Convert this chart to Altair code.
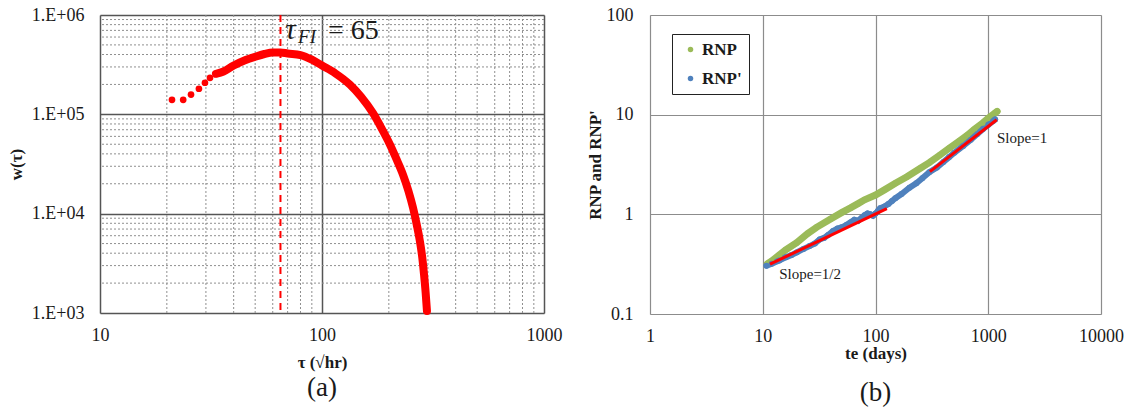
import altair as alt
import pandas as pd

SERIF = "Liberation Serif"
RED = "#ff0000"
GREEN = "#9bbb59"
BLUE = "#4f81bd"
INK = "#1a1a1a"

# ---------------- panel (a) ----------------
tau_dots = [21.1, 23.7, 25.7, 27.9, 29.7, 31.3, 33.3]
w_dots = [1.40e5, 1.40e5, 1.58e5, 1.81e5, 2.08e5, 2.33e5, 2.56e5]
tau_curve = [33.3, 36, 40, 45, 50, 55, 60, 65, 70, 80, 90, 100, 115, 133.6, 150,
             170, 185, 202, 217, 232, 245, 257, 267, 276, 283, 288, 293, 297]
w_curve = [2.56e5, 2.7e5, 3.1e5, 3.5e5, 3.8e5, 4.05e5, 4.2e5, 4.2e5, 4.1e5, 3.95e5,
           3.55e5, 3.1e5, 2.58e5, 1.99e5, 1.5e5, 1.02e5, 7.3e4, 5.0e4, 3.5e4, 2.45e4,
           1.7e4, 1.15e4, 7.8e3, 5.3e3, 3.6e3, 2.46e3, 1.6e3, 1.05e3]
tau_fi = [65]

a_x_major = [10, 100, 1000]
a_x_minor = [20, 30, 40, 50, 60, 70, 80, 90, 200, 300, 400, 500, 600, 700, 800, 900]
a_y_major = [1e3, 1e4, 1e5, 1e6]
a_y_minor = [2e3, 3e3, 4e3, 5e3, 6e3, 7e3, 8e3, 9e3,
             2e4, 3e4, 4e4, 5e4, 6e4, 7e4, 8e4, 9e4,
             2e5, 3e5, 4e5, 5e5, 6e5, 7e5, 8e5, 9e5]

# annotation "tau_FI = 65" (data coordinates)
ann_a_text = ["τ", "FI", "= 65"]
ann_a_tau = [68.1, 78.0, 106.4]
ann_a_w = [5.74e5, 5.24e5, 5.74e5]

# ---------------- panel (b) ----------------
te_rnp = [11, 12, 14, 16, 20, 25, 30, 40, 50, 60, 70, 80, 100, 120, 150, 190, 250,
          300, 373, 450, 550, 650, 750, 900, 1000, 1148, 1200]
rnp = [0.32, 0.34, 0.39, 0.44, 0.52, 0.64, 0.74, 0.90, 1.04, 1.16, 1.28, 1.40, 1.56,
       1.76, 2.05, 2.38, 2.90, 3.30, 3.94, 4.60, 5.40, 6.20, 7.10, 8.30, 9.20, 10.4, 10.8]
te_rnpd = [10.8, 12, 14, 16, 18, 20, 23, 26, 29, 32, 35, 38, 42, 46, 50, 55, 60, 65,
           70, 75, 80, 85, 90, 95, 100, 105, 110, 120, 130, 140, 150, 170, 200, 230,
           260, 300, 350, 400, 450, 500, 600, 700, 800, 900, 1000, 1100, 1150]
rnpd = [0.305, 0.32, 0.345, 0.37, 0.39, 0.415, 0.45, 0.48, 0.51, 0.56, 0.58, 0.62,
        0.68, 0.72, 0.74, 0.78, 0.83, 0.88, 0.86, 0.92, 0.98, 1.02, 1.0, 0.97, 1.02,
        1.08, 1.15, 1.2, 1.27, 1.36, 1.45, 1.6, 1.85, 2.05, 2.3, 2.65, 2.95, 3.35,
        3.75, 4.15, 4.85, 5.6, 6.4, 7.2, 7.9, 8.6, 8.95]
fit_seg = ["half", "half", "one", "one"]
fit_te = [11.6, 126, 304, 1189]
fit_v = [0.316, 1.14, 2.68, 8.9]

b_x_ticks = [1, 10, 100, 1000, 10000]
b_y_ticks = [0.1, 1, 10, 100]

ann_b_text = ["Slope=1/2", "Slope=1"]
ann_b_te = [14.0, 1196]
ann_b_v = [0.226, 5.21]

# ================= build panel (a) =================
xs_a = alt.Scale(type="log", domain=[10, 1000], nice=False)
ys_a = alt.Scale(type="log", domain=[1e3, 1e6], nice=False)

ax_a_x = alt.Axis(values=a_x_major, format="d", title="τ (√hr)", grid=True,
                  gridColor="#555555", gridWidth=1.5, ticks=False, domain=False,
                  labelFlush=False, labelFont=SERIF, labelFontSize=18, labelColor=INK,
                  labelPadding=13, titleFont=SERIF, titleFontSize=17,
                  titleFontWeight="bold", titleColor=INK, titlePadding=10)
ax_a_y = alt.Axis(values=a_y_major, labelExpr="'1.E+0' + round(log(datum.value)/LN10)",
                  title="w(τ)", grid=True, gridColor="#555555", gridWidth=1.5,
                  ticks=False, domain=False, labelFlush=False, labelFont=SERIF,
                  labelFontSize=18, labelColor=INK, labelPadding=16, titleFont=SERIF,
                  titleFontSize=17, titleFontWeight="bold", titleColor=INK,
                  titlePadding=6)

X_a = alt.X("tau:Q", scale=xs_a, axis=ax_a_x)
Y_a = alt.Y("w:Q", scale=ys_a, axis=ax_a_y)

df_a_vminor = pd.DataFrame({"tau": a_x_minor})
df_a_hminor = pd.DataFrame({"w": a_y_minor})
df_a_dots = pd.DataFrame({"tau": tau_dots, "w": w_dots})
df_a_curve = pd.DataFrame({"tau": tau_curve, "w": w_curve})
df_a_fi = pd.DataFrame({"tau": tau_fi})
df_a_ann = pd.DataFrame({"tau": ann_a_tau, "w": ann_a_w, "t": ann_a_text})

minor_style = dict(color="#8f8f8f", strokeWidth=1, strokeDash=[2, 2])
a_vminor = alt.Chart(df_a_vminor).mark_rule(**minor_style).encode(x=X_a)
a_hminor = alt.Chart(df_a_hminor).mark_rule(**minor_style).encode(y=Y_a)
a_fi = alt.Chart(df_a_fi).mark_rule(color=RED, strokeWidth=2, strokeDash=[7, 5]).encode(x=X_a)
a_curve = alt.Chart(df_a_curve).mark_line(color=RED, strokeWidth=8, strokeCap="round",
                                          interpolate="monotone").encode(x=X_a, y=Y_a)
a_dots = alt.Chart(df_a_dots).mark_circle(color=RED, size=45, opacity=1).encode(x=X_a, y=Y_a)

ann1 = alt.Chart(df_a_ann.iloc[[0]]).mark_text(font=SERIF, fontSize=30, fontStyle="italic",
                                                align="left", baseline="alphabetic",
                                                color=INK).encode(x=X_a, y=Y_a, text="t:N")
ann2 = alt.Chart(df_a_ann.iloc[[1]]).mark_text(font=SERIF, fontSize=19, fontStyle="italic",
                                                align="left", baseline="alphabetic",
                                                color=INK).encode(x=X_a, y=Y_a, text="t:N")
ann3 = alt.Chart(df_a_ann.iloc[[2]]).mark_text(font=SERIF, fontSize=28,
                                                align="left", baseline="alphabetic",
                                                color=INK).encode(x=X_a, y=Y_a, text="t:N")

panel_a = alt.layer(a_vminor, a_hminor, a_fi, a_curve, a_dots, ann1, ann2, ann3).properties(
    width=444, height=298,
    title=alt.TitleParams("(a)", orient="bottom", font=SERIF, fontSize=27,
                          fontWeight="normal", color=INK, frame="group", offset=5))

# ================= build panel (b) =================
xs_b = alt.Scale(type="log", domain=[1, 10000], nice=False)
ys_b = alt.Scale(type="log", domain=[0.1, 100], nice=False)

ax_b_x = alt.Axis(values=b_x_ticks, format="~g", title="te (days)", grid=True,
                  gridColor="#8c8c8c", gridWidth=1.2, ticks=False, domain=False,
                  labelFlush=False, labelFont=SERIF, labelFontSize=18, labelColor=INK,
                  labelPadding=13, titleFont=SERIF, titleFontSize=17,
                  titleFontWeight="bold", titleColor=INK, titlePadding=0)
ax_b_y = alt.Axis(values=b_y_ticks, format="~g", title="RNP and RNP'", grid=True,
                  gridColor="#8c8c8c", gridWidth=1.2, ticks=False, domain=False,
                  labelFlush=False, labelFont=SERIF, labelFontSize=18, labelColor=INK,
                  labelPadding=17, titleFont=SERIF, titleFontSize=17,
                  titleFontWeight="bold", titleColor=INK, titlePadding=2)

X_b = alt.X("te:Q", scale=xs_b, axis=ax_b_x)
Y_b = alt.Y("v:Q", scale=ys_b, axis=ax_b_y)

df_g = pd.DataFrame({"te": te_rnp, "v": rnp, "series": "RNP"})
df_bl = pd.DataFrame({"te": te_rnpd, "v": rnpd, "series": "RNP'"})
df_pts = pd.concat([df_g, df_bl], ignore_index=True)
df_fit = pd.DataFrame({"te": fit_te, "v": fit_v, "seg": fit_seg})
df_b_ann = pd.DataFrame({"te": ann_b_te, "v": ann_b_v, "t": ann_b_text})

b_gline = alt.Chart(df_g).mark_line(color=GREEN, strokeWidth=7, strokeCap="round").encode(x=X_b, y=Y_b)
b_bline = alt.Chart(df_bl).mark_line(color=BLUE, strokeWidth=6, strokeCap="round").encode(x=X_b, y=Y_b)
b_pts = alt.Chart(df_pts).mark_circle(size=36, opacity=1).encode(
    x=X_b, y=Y_b,
    color=alt.Color("series:N",
                    scale=alt.Scale(domain=["RNP", "RNP'"], range=[GREEN, BLUE]),
                    legend=alt.Legend(title=None, orient="none", legendX=22, legendY=19,
                                      symbolType="circle", symbolSize=30,
                                      symbolStrokeWidth=0, symbolOffset=3,
                                      labelFont=SERIF, labelFontSize=17,
                                      labelFontWeight="bold", labelColor=INK,
                                      labelOffset=3, rowPadding=11, padding=7,
                                      strokeColor="#222222", fillColor="white")))
b_fit = alt.Chart(df_fit).mark_line(color=RED, strokeWidth=3).encode(x=X_b, y=Y_b, detail="seg:N")
b_ann = alt.Chart(df_b_ann).mark_text(font=SERIF, fontSize=15, align="left",
                                      baseline="alphabetic", color=INK).encode(
    x=X_b, y=Y_b, text="t:N")

panel_b = alt.layer(b_gline, b_bline, b_pts, b_fit, b_ann).properties(
    width=451, height=299,
    title=alt.TitleParams("(b)", orient="bottom", font=SERIF, fontSize=27,
                          fontWeight="normal", color=INK, frame="group", offset=19))

chart = alt.hconcat(panel_a, panel_b, spacing=106, bounds="flush").resolve_scale(
    color="independent").resolve_legend(color="independent").properties(
    padding={"left": 6, "top": 5, "right": 0, "bottom": 0}
).configure_view(stroke="#333333", strokeWidth=2).configure(background="white")

chart.save("out.html", embed_options={"renderer": "svg", "actions": False})
